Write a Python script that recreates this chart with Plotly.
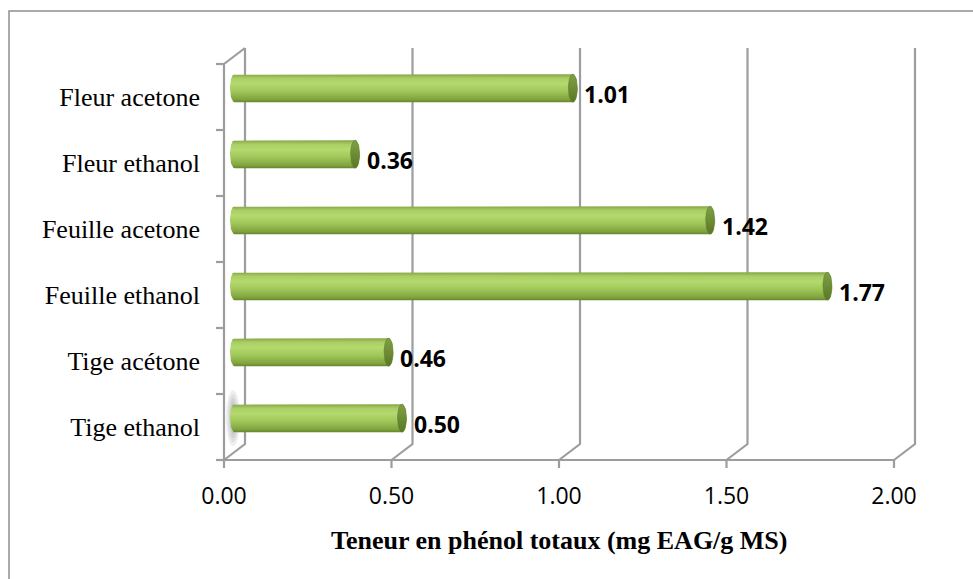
import numpy as np
import plotly.graph_objects as go

# Total phenol content per extract (mg EAG/g MS), listed bottom to top
categories = ["Tige ethanol", "Tige acétone", "Feuille ethanol",
              "Feuille acetone", "Fleur ethanol", "Fleur acetone"]
values = [0.50, 0.46, 1.77, 1.42, 0.36, 1.01]
value_labels = ["0.50", "0.46", "1.77", "1.42", "0.36", "1.01"]
x_ticks = [0.0, 0.5, 1.0, 1.5, 2.0]
x_tick_labels = ["0.00", "0.50", "1.00", "1.50", "2.00"]
axis_title = "Teneur en phénol totaux (mg EAG/g MS)"

W, H = 973, 579
ML, MR, MT, MB = 204, 33, 30, 99
PX_X = 335.0      # pixels per unit of value
PX_Y = 66.0       # pixels per category
X0_PX = 224.0     # pixel of value 0 on the front plane
Y0_PX = 427.0     # pixel of the first category centre on the front plane

x_range = [(ML - X0_PX) / PX_X, (W - MR - X0_PX) / PX_X]
y_range = [(Y0_PX - (H - MB)) / PX_Y, (Y0_PX - MT) / PX_Y]

# 3D box depth offsets (in axis units)
DX = 21 / PX_X
DY = 16 / PX_Y
n = len(categories)
y_lo, y_hi = -0.5, n - 0.5

frame_x, frame_y = [], []
def seg(xs, ys):
    frame_x.extend(list(xs) + [None])
    frame_y.extend(list(ys) + [None])

# back wall gridlines and floor diagonals
for v in x_ticks:
    seg([v, v + DX, v + DX], [y_lo, y_lo + DY, y_hi + DY])
# front floor edge and tick marks
seg([0, x_ticks[-1]], [y_lo, y_lo])
for v in x_ticks:
    seg([v, v], [y_lo, y_lo - 8 / PX_Y])
# left wall front edge, top diagonal and category ticks
seg([0, 0, DX], [y_lo, y_hi, y_hi + DY])
for k in range(n + 1):
    seg([-8 / PX_X, 0], [y_lo + k, y_lo + k])

fig = go.Figure()
fig.add_trace(go.Scatter(x=frame_x, y=frame_y, mode="lines",
                         line=dict(color="#9d9d9d", width=2.2),
                         hoverinfo="skip", showlegend=False))

half_h = 14 / PX_Y
rx_body = 4.5 / PX_X
rx_cap = 4.5 / PX_X
y_shift = 0.55 * DY
x_start = DX / 2

body_scale = [[0.0, "#66862b"], [0.1, "#80a33f"], [0.38, "#9fc659"],
              [0.66, "#b4d96e"], [0.86, "#a9ce63"], [1.0, "#83a443"]]
cap_scale = [[0.0, "#5a7826"], [0.5, "#6d8c35"], [1.0, "#80a045"]]

# soft shadow at the base of the lowest cylinder
t = np.linspace(0, 2 * np.pi, 60)
for k, (sx, sy) in enumerate([(7, 28), (5.5, 24), (4, 20), (2.5, 16)]):
    fig.add_trace(go.Scatter(x=x_start - 1.5 / PX_X + (sx / PX_X) * np.cos(t),
                             y=y_shift + (sy / PX_Y) * np.sin(t),
                             mode="lines", fill="toself", line=dict(width=0),
                             fillcolor="rgba(120,120,120,0.13)",
                             hoverinfo="skip", showlegend=False))

for i, (cat, v) in enumerate(zip(categories, values)):
    yc = i + y_shift
    x0 = x_start
    x1 = x_start + v
    a_left = np.linspace(np.pi / 2, 3 * np.pi / 2, 25)
    a_right = np.linspace(-np.pi / 2, np.pi / 2, 25)
    bx = np.concatenate([[x1], x0 + rx_body * np.cos(a_left), [x1],
                         x1 + rx_cap * np.cos(a_right)])
    by = np.concatenate([[yc + half_h], yc + half_h * np.sin(a_left), [yc - half_h],
                         yc + half_h * np.sin(a_right)])
    fig.add_trace(go.Scatter(x=bx, y=by, mode="lines", fill="toself",
                             line=dict(width=0),
                             fillgradient=dict(type="vertical", colorscale=body_scale),
                             hoverinfo="skip", showlegend=False, name=cat))
    a = np.linspace(0, 2 * np.pi, 50)
    fig.add_trace(go.Scatter(x=x1 + rx_cap * np.cos(a), y=yc + half_h * np.sin(a),
                             mode="lines", fill="toself",
                             line=dict(width=0.6, color="#5f7d2c"),
                             fillgradient=dict(type="vertical", colorscale=cap_scale),
                             hoverinfo="skip", showlegend=False))
    fig.add_annotation(x=x1 + rx_cap, y=i + 0.05, text=value_labels[i],
                       showarrow=False, xanchor="left", yanchor="middle", xshift=5,
                       font=dict(family="Open Sans", size=23, color="black", weight="bold"))

fig.add_annotation(x=1.0, xref="x", y=(H - MB - 540) / (H - MT - MB), yref="paper",
                   text="<b>" + axis_title + "</b>", showarrow=False,
                   xanchor="center", yanchor="middle",
                   font=dict(family="Liberation Serif", size=26, color="black"))

# outer chart border (only top and left edges fall inside the page)
pw, ph = W - ML - MR, H - MT - MB
fig.add_shape(type="rect", xref="paper", yref="paper",
              x0=(9 - ML) / pw, x1=(W + 40 - ML) / pw,
              y0=(H - MB - (H + 40)) / ph, y1=(H - MB - 11) / ph,
              line=dict(color="#8e8e8e", width=1.5), fillcolor="rgba(0,0,0,0)")

fig.update_layout(
    width=W, height=H,
    margin=dict(l=ML, r=MR, t=MT, b=MB, autoexpand=False),
    paper_bgcolor="white", plot_bgcolor="white",
    xaxis=dict(range=x_range, tickvals=x_ticks, ticktext=x_tick_labels,
               showgrid=False, zeroline=False, showline=False, ticks="",
               tickfont=dict(family="Open Sans", size=23, color="black"),
               fixedrange=True),
    yaxis=dict(range=y_range, tickvals=list(range(n)), ticktext=categories,
               showgrid=False, zeroline=False, showline=False, ticks="",
               ticklabelstandoff=3,
               tickfont=dict(family="Liberation Serif", size=26, color="black"),
               fixedrange=True),
    showlegend=False,
)

fig.write_html("out.html")
